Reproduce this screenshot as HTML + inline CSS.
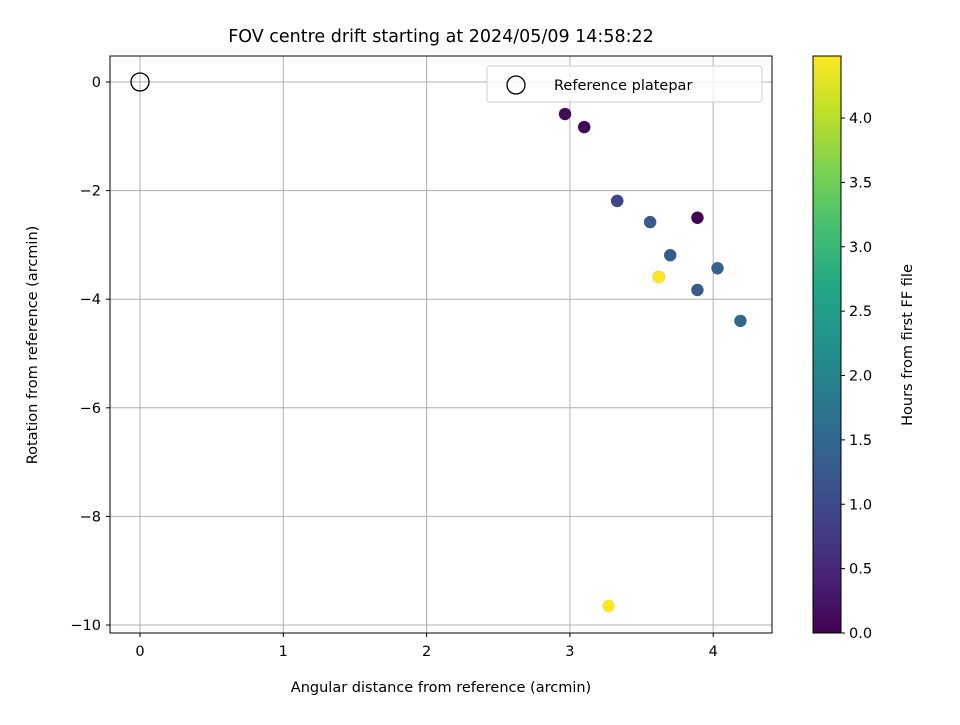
<!DOCTYPE html>
<html><head><meta charset="utf-8"><style>
body{margin:0;background:#fff;font-family:"Liberation Sans","DejaVu Sans",sans-serif}
svg text{font-family:"DejaVu Sans","Liberation Sans",sans-serif;fill:#000}
</style></head><body>
<svg id="c" width="960" height="720" viewBox="0 0 960 720">
<defs><linearGradient id="vir" x1="0" y1="1" x2="0" y2="0">
<stop offset="0" stop-color="#440154"/><stop offset="0.1" stop-color="#482475"/><stop offset="0.2" stop-color="#414487"/><stop offset="0.3" stop-color="#355f8d"/><stop offset="0.4" stop-color="#2a788e"/><stop offset="0.5" stop-color="#21918c"/><stop offset="0.6" stop-color="#22a884"/><stop offset="0.7" stop-color="#44bf70"/><stop offset="0.8" stop-color="#7ad151"/><stop offset="0.9" stop-color="#bddf26"/><stop offset="1" stop-color="#fde725"/></linearGradient></defs>
<text x="441" y="42" font-size="17.5" text-anchor="middle">FOV centre drift starting at 2024/05/09 14:58:22</text>
<g id="grid"></g><g id="ticks"></g><g id="pts"></g>
<rect x="110" y="56" width="662" height="577" fill="none" stroke="#000" stroke-width="1"/>
<text x="441" y="692" font-size="14.5" text-anchor="middle">Angular distance from reference (arcmin)</text>
<text transform="translate(37,345) rotate(-90)" font-size="14.5" text-anchor="middle">Rotation from reference (arcmin)</text>
<g>
<rect x="487" y="66" width="275" height="36" rx="3" fill="#fff" fill-opacity="0.8" stroke="#ccc"/>
<circle cx="516" cy="85" r="9" fill="none" stroke="#000" stroke-width="1.3"/>
<text x="554" y="90" font-size="14.5">Reference platepar</text></g>
<rect x="813" y="56" width="28" height="577" fill="url(#vir)" stroke="#000"/>
<g id="cbt"></g>
<text transform="translate(912,345) rotate(-90)" font-size="14.5" text-anchor="middle">Hours from first FF file</text>
</svg>
<script>
const xTicks=[0,1,2,3,4];
const yTicks=[0,-2,-4,-6,-8,-10];
const cbTicks=[0,0.5,1,1.5,2,2.5,3,3.5,4];
const xs=[2.966,3.10,3.33,3.33,3.56,3.89,3.70,3.62,3.62,4.03,3.89,4.19,3.27];
const ys=[-0.59,-0.83,-2.19,-2.19,-2.58,-2.50,-3.19,-3.59,-3.59,-3.43,-3.83,-4.40,-9.65];
const hrs=[0.1,0.05,0.7,0.95,1.25,0.0,1.3,0.3,4.48,1.4,1.3,1.5,4.45];
const cmax=4.48;
const X=v=>140+v*143.3, Y=v=>82-v*54.3, CB=v=>633-v*128.75;
const NS='http://www.w3.org/2000/svg';
function mk(p,t,a){const e=document.createElementNS(NS,t);for(const k in a)e.setAttribute(k,a[k]);p.appendChild(e);return e;}
const vir=['#440154','#482475','#414487','#355f8d','#2a788e','#21918c','#22a884','#44bf70','#7ad151','#bddf26','#fde725'];
function col(t){t=Math.max(0,Math.min(1,t))*10;const i=Math.min(9,Math.floor(t)),f=t-i;const a=vir[i],b=vir[i+1];let s='#';for(let j=1;j<7;j+=2){const c=Math.round(parseInt(a.substr(j,2),16)*(1-f)+parseInt(b.substr(j,2),16)*f);s+=c.toString(16).padStart(2,'0');}return s;}
const g=document.getElementById('grid'),tk=document.getElementById('ticks'),pt=document.getElementById('pts'),cb=document.getElementById('cbt');
xTicks.forEach(v=>{const x=X(v);
let l=mk(g,'line',{x1:x,x2:x,y1:56,y2:633,stroke:'#b0b0b0','stroke-width':1});

mk(tk,'line',{x1:x,x2:x,y1:633,y2:637,stroke:'#000'});
let t=mk(tk,'text',{x:x,y:656,'font-size':14.5,'text-anchor':'middle'});t.textContent=String(v);
});
yTicks.forEach(v=>{const y=Y(v);
let l=mk(g,'line',{x1:110,x2:772,y1:y,y2:y,stroke:'#b0b0b0','stroke-width':1});

mk(tk,'line',{x1:106,x2:110,y1:y,y2:y,stroke:'#000'});
let t=mk(tk,'text',{x:101,y:y+5,'font-size':14.5,'text-anchor':'end'});t.textContent=v<0?'\u2212'+(-v):String(v);
});
let r=mk(pt,'circle',{cx:X(0),cy:Y(0),r:9,fill:'none',stroke:'#000','stroke-width':1.3});

xs.forEach((v,i)=>{let c=mk(pt,'circle',{cx:X(v),cy:Y(ys[i]),r:6.2,fill:col(hrs[i]/cmax)});
});
cbTicks.forEach(v=>{const y=CB(v);mk(cb,'line',{x1:841,x2:845,y1:y,y2:y,stroke:'#000'});
let t=mk(cb,'text',{x:849,y:y+5,'font-size':14.5});t.textContent=v.toFixed(1);
});
</script>
</body></html>
